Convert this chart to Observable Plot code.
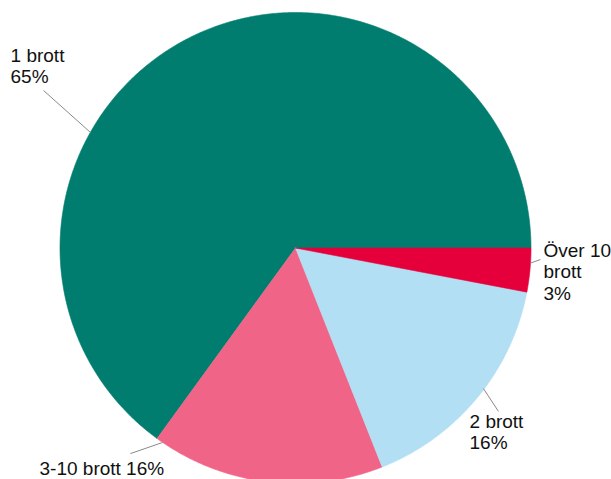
<!DOCTYPE html>
<html>
<head>
<meta charset="utf-8">
<script src="https://cdn.jsdelivr.net/npm/d3@7"></script>
<script src="https://cdn.jsdelivr.net/npm/@observablehq/plot@0.6"></script>
<style>
  html, body { margin: 0; padding: 0; background: #fff; overflow: hidden; }
  #chart svg { display: block; }
</style>
</head>
<body>
<div id="chart"></div>
<script>
// ---- data ----
const categories = ["1 brott", "3-10 brott", "2 brott", "Över 10 brott"];
const values = [65, 16, 16, 3];           // percent
const colors = ["#007D6E", "#F06587", "#B2DFF3", "#E6003B"];

// label annotations (unit-circle coordinates; pie radius = 1)
const labelTexts = ["1 brott\n65%", "3-10 brott 16%", "2 brott\n16%", "Över 10\nbrott\n3%"];
const labelX = [-1.21, -1.087, 0.739, 1.053];
const labelY = [0.70, -0.964, -0.854, -0.220];
const leaderFrom = [[-0.870, 0.490], [-0.565, -0.826], [0.798, -0.597], [0.998, -0.064]];
const leaderTo = [[-1.070, 0.669], [-0.701, -0.873], [0.862, -0.694], [1.040, -0.049]];

// ---- geometry from data (slices run counter-clockwise from east) ----
const total = d3.sum(values);
const pts = [];
let acc = 0;
categories.forEach((c, i) => {
  const a0 = acc / total * 2 * Math.PI;
  acc += values[i];
  const a1 = acc / total * 2 * Math.PI;
  pts.push({slice: c, x: 0, y: 0});
  const n = Math.max(4, Math.ceil((a1 - a0) / (Math.PI / 360)));
  for (let k = 0; k <= n; k++) {
    const a = a0 + (a1 - a0) * k / n;
    pts.push({slice: c, x: Math.cos(a), y: Math.sin(a)});
  }
  pts.push({slice: c, x: 0, y: 0});
});

const labels = labelTexts.map((t, i) => ({text: t, x: labelX[i], y: labelY[i]}));
const leaders = leaderFrom.map((f, i) => ({x1: f[0], y1: f[1], x2: leaderTo[i][0], y2: leaderTo[i][1]}));

const chart = Plot.plot({
  width: 611,
  height: 479,
  margin: 0,
  style: {background: "#fff", fontFamily: "'Liberation Sans', Arial, sans-serif"},
  x: {domain: [-1, 1], range: [59.5, 530.5], axis: null},
  y: {domain: [-1, 1], range: [483, 12], axis: null},
  color: {domain: categories, range: colors},
  marks: [
    Plot.line(pts, {x: "x", y: "y", z: "slice", fill: "slice", stroke: "slice", strokeWidth: 0.6, curve: "linear"}),
    Plot.link(leaders, {x1: "x1", y1: "y1", x2: "x2", y2: "y2", stroke: "#8a8a8a", strokeWidth: 1}),
    Plot.text(labels, {x: "x", y: "y", text: "text", textAnchor: "start", lineAnchor: "bottom",
      lineHeight: 1.13, fontSize: 19, fill: "#111"})
  ]
});
document.getElementById("chart").appendChild(chart);
</script>
</body>
</html>
